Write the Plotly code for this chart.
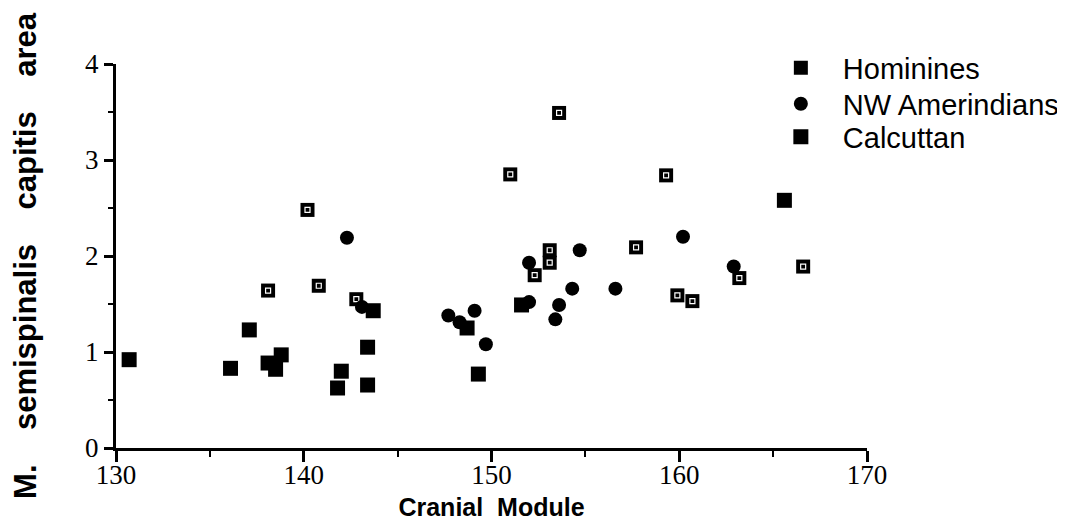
import plotly.graph_objects as go

# Data
hom_x = [138.1, 140.2, 140.8, 142.8, 151.0, 153.6, 153.1, 153.1, 152.3, 157.7, 159.3, 159.9, 160.7, 163.2, 166.6]
hom_y = [1.64, 2.48, 1.69, 1.55, 2.85, 3.49, 2.06, 1.93, 1.80, 2.09, 2.84, 1.59, 1.53, 1.77, 1.89]

amer_x = [142.3, 143.1, 147.7, 148.3, 149.1, 149.7, 152.0, 152.0, 153.6, 153.4, 154.3, 154.7, 156.6, 160.2, 162.9]
amer_y = [2.19, 1.47, 1.38, 1.31, 1.43, 1.08, 1.52, 1.93, 1.49, 1.34, 1.66, 2.06, 1.66, 2.20, 1.89]

calc_x = [130.7, 136.1, 137.1, 138.1, 138.8, 138.5, 141.8, 142.0, 143.4, 143.4, 143.7, 148.7, 149.3, 151.6, 165.6]
calc_y = [0.92, 0.83, 1.23, 0.885, 0.97, 0.82, 0.625, 0.80, 1.05, 0.656, 1.43, 1.25, 0.77, 1.49, 2.58]

series_names = ["Hominines", "NW Amerindians", "Calcuttan"]
x_ticks = [130, 140, 150, 160, 170]
y_ticks = [0, 1, 2, 3, 4]

fig = go.Figure()

fig.add_trace(go.Scatter(
    x=hom_x, y=hom_y, mode="markers", name=series_names[0],
    legend="legend",
    marker=dict(symbol="square", size=14, color="black"),
    cliponaxis=False,
))
# white inner square of the Hominine markers
fig.add_trace(go.Scatter(
    x=hom_x, y=hom_y, mode="markers", showlegend=False, hoverinfo="skip",
    marker=dict(symbol="square-open", size=5, color="white", line=dict(width=1.2, color="white")),
    cliponaxis=False,
))
fig.add_trace(go.Scatter(
    x=amer_x, y=amer_y, mode="markers", name=series_names[1],
    legend="legend2",
    marker=dict(symbol="circle", size=14, color="black"),
    cliponaxis=False,
))
fig.add_trace(go.Scatter(
    x=calc_x, y=calc_y, mode="markers", name=series_names[2],
    legend="legend3",
    marker=dict(symbol="square", size=15, color="black"),
    cliponaxis=False,
))

tick_font = dict(family="Liberation Serif", size=27, color="black")
ytitle_font = dict(family="Liberation Sans", size=31, color="black", weight="bold")
xtitle_font = dict(family="Liberation Sans", size=25, color="black", weight="bold")
legend_font = dict(family="Liberation Sans", size=29, color="black")


def legend_at(yp):
    return dict(
        x=0.856, y=yp, xanchor="left", yanchor="middle",
        font=legend_font, itemwidth=74,
        bgcolor="rgba(0,0,0,0)", borderwidth=0,
    )


# the page body adds an 8px offset, so margins are shifted by 8px
fig.update_layout(
    width=1065, height=520,
    margin=dict(l=108, r=206, t=56, b=80, autoexpand=False),
    paper_bgcolor="white", plot_bgcolor="white",
    showlegend=True,
    legend=legend_at(0.990),
    legend2=legend_at(0.896),
    legend3=legend_at(0.810),
    xaxis=dict(
        range=[130, 170], tickmode="array", tickvals=x_ticks,
        showgrid=False, zeroline=False, automargin=False,
        showline=True, linecolor="black", linewidth=3,
        ticks="outside", ticklen=11, tickwidth=3, tickcolor="black",
        minor=dict(dtick=5, tick0=130, ticks="outside", ticklen=6, tickwidth=2, tickcolor="black", showgrid=False),
        tickfont=tick_font, ticklabelstandoff=-10,
        title=dict(text="Cranial\u00a0\u00a0Module", font=xtitle_font, standoff=10),
    ),
    yaxis=dict(
        range=[0, 4], tickmode="array", tickvals=y_ticks,
        showgrid=False, zeroline=False, automargin=False,
        showline=True, linecolor="black", linewidth=3,
        ticks="outside", ticklen=9, tickwidth=3, tickcolor="black",
        minor=dict(dtick=0.5, tick0=0, ticks="outside", ticklen=5, tickwidth=2, tickcolor="black", showgrid=False),
        tickfont=tick_font,
        title=dict(text="\u00a0M.\u00a0\u00a0\u00a0\u00a0semispinalis\u00a0\u00a0\u00a0\u00a0capitis\u00a0\u00a0\u00a0\u00a0area",
                   font=ytitle_font, standoff=66),
    ),
)

fig.write_html("out.html")
